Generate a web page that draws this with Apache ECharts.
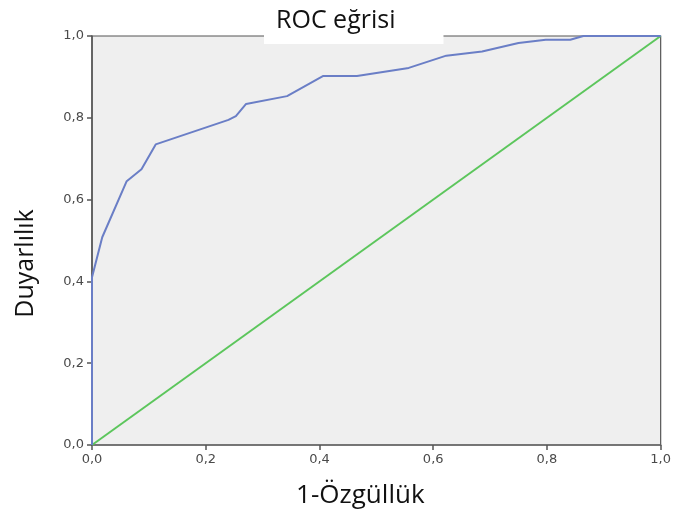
<!DOCTYPE html>
<html>

<head>
    <meta charset="utf-8">
    <title>ROC eğrisi</title>
    <script src="https://cdn.jsdelivr.net/npm/echarts@6/dist/echarts.min.js"></script>
    <style>
        html, body { margin: 0; padding: 0; background: #fff; }
    </style>
</head>

<body>
    <div id="main" style="width: 674px;height:516px;"></div>
    <script type="text/javascript">
        // ROC egrisi: 1-Ozgulluk (x) ve Duyarlilik (y)
        var fpr = [0, 0, 0.018, 0.061, 0.087, 0.112, 0.24, 0.253, 0.271, 0.343, 0.406, 0.466, 0.557, 0.623, 0.686, 0.75, 0.798, 0.841, 0.864, 1];
        var tpr = [0, 0.41, 0.508, 0.645, 0.674, 0.735, 0.795, 0.804, 0.834, 0.853, 0.902, 0.902, 0.922, 0.952, 0.962, 0.983, 0.991, 0.991, 1, 1];
        // referans cizgisi
        var refX = [0, 1];
        var refY = [0, 1];

        var rocData = fpr.map(function (x, i) { return [x, tpr[i]]; });
        var refData = refX.map(function (x, i) { return [x, refY[i]]; });

        var myChart = echarts.init(document.getElementById('main'));

        function fmt(v) {
            return v.toFixed(1).replace('.', ',');
        }

        var axisLabel = {
            color: '#4a4a4a',
            fontFamily: 'DejaVu Sans',
            fontSize: 13,
            formatter: fmt
        };

        var option = {
            animation: false,
            backgroundColor: '#fff',
            title: {
                text: 'ROC eğrisi',
                left: 264,
                top: 0,
                backgroundColor: '#fff',
                padding: [7, 48, 9, 12],
                textStyle: {
                    fontFamily: 'Open Sans',
                    fontWeight: 'normal',
                    fontSize: 25,
                    lineHeight: 28,
                    color: '#111'
                },
                z: 20
            },
            grid: {
                left: 92,
                right: 13,
                top: 36,
                bottom: 71,
                show: true,
                backgroundColor: '#efefef',
                borderColor: '#555',
                borderWidth: 1.2
            },
            xAxis: {
                type: 'value',
                min: 0,
                max: 1,
                interval: 0.2,
                name: '1-Özgüllük',
                nameLocation: 'middle',
                nameGap: 38,
                nameTextStyle: {
                    fontFamily: 'Open Sans',
                    fontSize: 26,
                    color: '#111',
                    padding: [0, 32, 0, 0]
                },
                axisLine: { lineStyle: { color: '#666', width: 1.5 } },
                axisTick: { show: true, length: 5, lineStyle: { color: '#555', width: 1.5 } },
                axisLabel: axisLabel,
                splitLine: { show: false }
            },
            yAxis: {
                type: 'value',
                min: 0,
                max: 1,
                interval: 0.2,
                name: 'Duyarlılık',
                nameLocation: 'middle',
                nameGap: 54,
                nameTextStyle: {
                    fontFamily: 'Open Sans',
                    fontSize: 25,
                    color: '#111',
                    padding: [0, 46, 0, 0]
                },
                axisLine: { show: true, lineStyle: { color: '#555', width: 1.5 } },
                axisTick: { show: true, length: 5, lineStyle: { color: '#555', width: 1.5 } },
                axisLabel: axisLabel,
                splitLine: { show: false }
            },
            series: [{
                    name: 'Referans',
                    type: 'line',
                    data: refData,
                    symbol: 'none',
                    lineStyle: { color: '#5cc65c', width: 2 },
                    z: 3
                },
                {
                    name: 'ROC',
                    type: 'line',
                    data: rocData,
                    symbol: 'none',
                    lineStyle: { color: '#6a7ec6', width: 2 },
                    z: 4
                }
            ]
        };
        myChart.setOption(option);
    </script>
</body>

</html>
